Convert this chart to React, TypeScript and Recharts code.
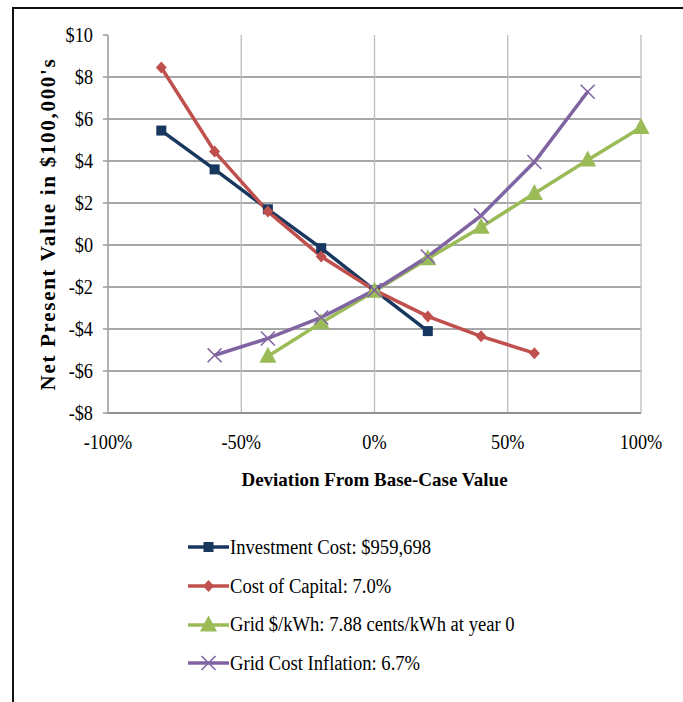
import React from 'react';
import { LineChart, Line, XAxis, YAxis, CartesianGrid, Legend, Label } from 'recharts';

const deviation = [-80, -60, -40, -20, 0, 20, 40, 60, 80, 100];
const investmentCost = [5.45, 3.6, 1.7, -0.15, -2.15, -4.1, null, null, null, null];
const costOfCapital = [8.45, 4.45, 1.6, -0.55, -2.15, -3.4, -4.35, -5.15, null, null];
const gridKwh = [null, null, -5.3, -3.7, -2.2, -0.65, 0.85, 2.45, 4.05, 5.6];
const gridInflation = [null, -5.25, -4.45, -3.45, -2.15, -0.55, 1.4, 3.95, 7.3, null];

const xTicks = [-100, -50, 0, 50, 100];
const yTicks = [-8, -6, -4, -2, 0, 2, 4, 6, 8, 10];
const yGridValues = [-8, -6, -4, -2, 0, 2, 4, 6, 8];

const seriesNames = [
  'Investment Cost: $959,698',
  'Cost of Capital: 7.0%',
  'Grid $/kWh: 7.88 cents/kWh at year 0',
  'Grid Cost Inflation: 6.7%',
];
const colors = ['#17375E', '#C0504D', '#9BBB59', '#8064A2'];
const markers = ['square', 'diamond', 'triangle', 'x'];

const data = deviation.map((x, i) => ({
  x,
  s0: investmentCost[i],
  s1: costOfCapital[i],
  s2: gridKwh[i],
  s3: gridInflation[i],
}));

const FONT = '"Liberation Serif", "Times New Roman", serif';
const SQUEEZE = 0.83;

function Marker({ kind, cx, cy, color }: { kind: string; cx: number; cy: number; color: string }) {
  if (kind === 'square') {
    return <rect x={cx - 5} y={cy - 5} width={10} height={10} fill={color} />;
  }
  if (kind === 'diamond') {
    return <polygon points={`${cx},${cy - 6} ${cx + 5.5},${cy} ${cx},${cy + 6} ${cx - 5.5},${cy}`} fill={color} />;
  }
  if (kind === 'triangle') {
    return <polygon points={`${cx},${cy - 9.5} ${cx + 8.5},${cy + 6.5} ${cx - 8.5},${cy + 6.5}`} fill={color} />;
  }
  return (
    <g stroke={color} strokeWidth={1.6}>
      <line x1={cx - 7} y1={cy - 7} x2={cx + 7} y2={cy + 7} />
      <line x1={cx - 7} y1={cy + 7} x2={cx + 7} y2={cy - 7} />
    </g>
  );
}

const makeDot = (idx: number) => (props: any) => {
  const { cx, cy, value, index } = props;
  if (cx == null || cy == null || value == null) return <g key={`d${idx}-${index}`} />;
  return (
    <g key={`d${idx}-${index}`}>
      <Marker kind={markers[idx]} cx={cx} cy={cy} color={colors[idx]} />
    </g>
  );
};

const fmtY = (v: number) => (v < 0 ? `-$${-v}` : `$${v}`);
const fmtX = (v: number) => `${v}%`;

const XTick = (props: any) => {
  const { x, y, payload } = props;
  return (
    <g transform={`translate(${x},${y})`}>
      <text
        transform={`scale(${SQUEEZE},1)`}
        textAnchor="middle"
        dy="0.71em"
        fill="#000"
        fontFamily={FONT}
        fontSize={22}
      >
        {fmtX(payload.value)}
      </text>
    </g>
  );
};

const YTick = (props: any) => {
  const { x, y, payload } = props;
  return (
    <g transform={`translate(${x},${y})`}>
      <text
        transform={`scale(${SQUEEZE},1)`}
        textAnchor="end"
        dy="0.34em"
        fill="#000"
        fontFamily={FONT}
        fontSize={22}
      >
        {fmtY(payload.value)}
      </text>
    </g>
  );
};

const LegendContent = () => (
  <div style={{ fontFamily: FONT, fontSize: 20, color: '#000' }}>
    {seriesNames.map((name, i) => (
      <div key={name} style={{ display: 'flex', alignItems: 'center', height: 38.7 }}>
        <svg width={41} height={20} style={{ display: 'block', flex: 'none' }}>
          <line x1={0} y1={10} x2={41} y2={10} stroke={colors[i]} strokeWidth={3.5} />
          <Marker kind={markers[i]} cx={20.5} cy={10} color={colors[i]} />
        </svg>
        <span
          style={{
            marginLeft: 1,
            whiteSpace: 'nowrap',
            display: 'inline-block',
            transform: 'scaleX(0.93)',
            transformOrigin: 'left center',
          }}
        >
          {name}
        </span>
      </div>
    ))}
  </div>
);

export default function App() {
  return (
    <div style={{ position: 'absolute', left: 0, top: 0, width: 683, height: 702, background: '#fff' }}>
      <div
        style={{
          position: 'absolute',
          left: 12,
          top: 7,
          right: 0,
          bottom: 0,
          borderLeft: '2.5px solid #111',
          borderTop: '2.5px solid #111',
        }}
      />
      <div style={{ position: 'absolute', left: 0, top: 0 }}>
        <LineChart
          width={683}
          height={702}
          data={data}
          margin={{ top: 35, right: 42, left: 0, bottom: 0 }}
        >
          <CartesianGrid vertical={false} stroke="#8a8a8a" strokeWidth={1.3} horizontalValues={yGridValues} />
          <CartesianGrid horizontal={false} stroke="#bcbcbc" strokeWidth={1.3} />
          <XAxis
            dataKey="x"
            type="number"
            domain={[-100, 100]}
            ticks={xTicks}
            interval={0}
            height={289}
            axisLine={{ stroke: '#8a8a8a', strokeWidth: 1.3 }}
            tickLine={false}
            tickSize={6}
            tickMargin={14}
            tick={<XTick />}
          >
            <Label
              value="Deviation From Base-Case Value"
              position="insideTop"
              offset={60}
              style={{ fill: '#000', fontFamily: FONT, fontSize: 19, fontWeight: 'bold' }}
            />
          </XAxis>
          <YAxis
            type="number"
            domain={[-8, 10]}
            ticks={yTicks}
            interval={0}
            width={108}
            axisLine={{ stroke: '#a0a0a0', strokeWidth: 1.3 }}
            tickLine={{ stroke: '#8a8a8a', strokeWidth: 1.3 }}
            tickSize={5}
            tickMargin={10}
            tick={<YTick />}
          >
            <Label
              value="Net Present Value in $100,000's"
              angle={-90}
              position="insideLeft"
              offset={48}
              style={{ fill: '#000', fontFamily: FONT, fontSize: 21, fontWeight: 'bold', letterSpacing: 1.7, textAnchor: 'middle' }}
            />
          </YAxis>
          {[0, 1, 2, 3].map((i) => (
            <Line
              key={i}
              dataKey={`s${i}`}
              name={seriesNames[i]}
              stroke={colors[i]}
              strokeWidth={3.5}
              dot={makeDot(i)}
              activeDot={false}
              isAnimationActive={false}
              connectNulls={false}
            />
          ))}
          <Legend
            layout="horizontal"
            verticalAlign="middle"
            align="center"
            content={<LegendContent />}
            wrapperStyle={{ position: 'absolute', left: 188, top: 528, width: 440, height: 160 }}
          />
        </LineChart>
      </div>
    </div>
  );
}
